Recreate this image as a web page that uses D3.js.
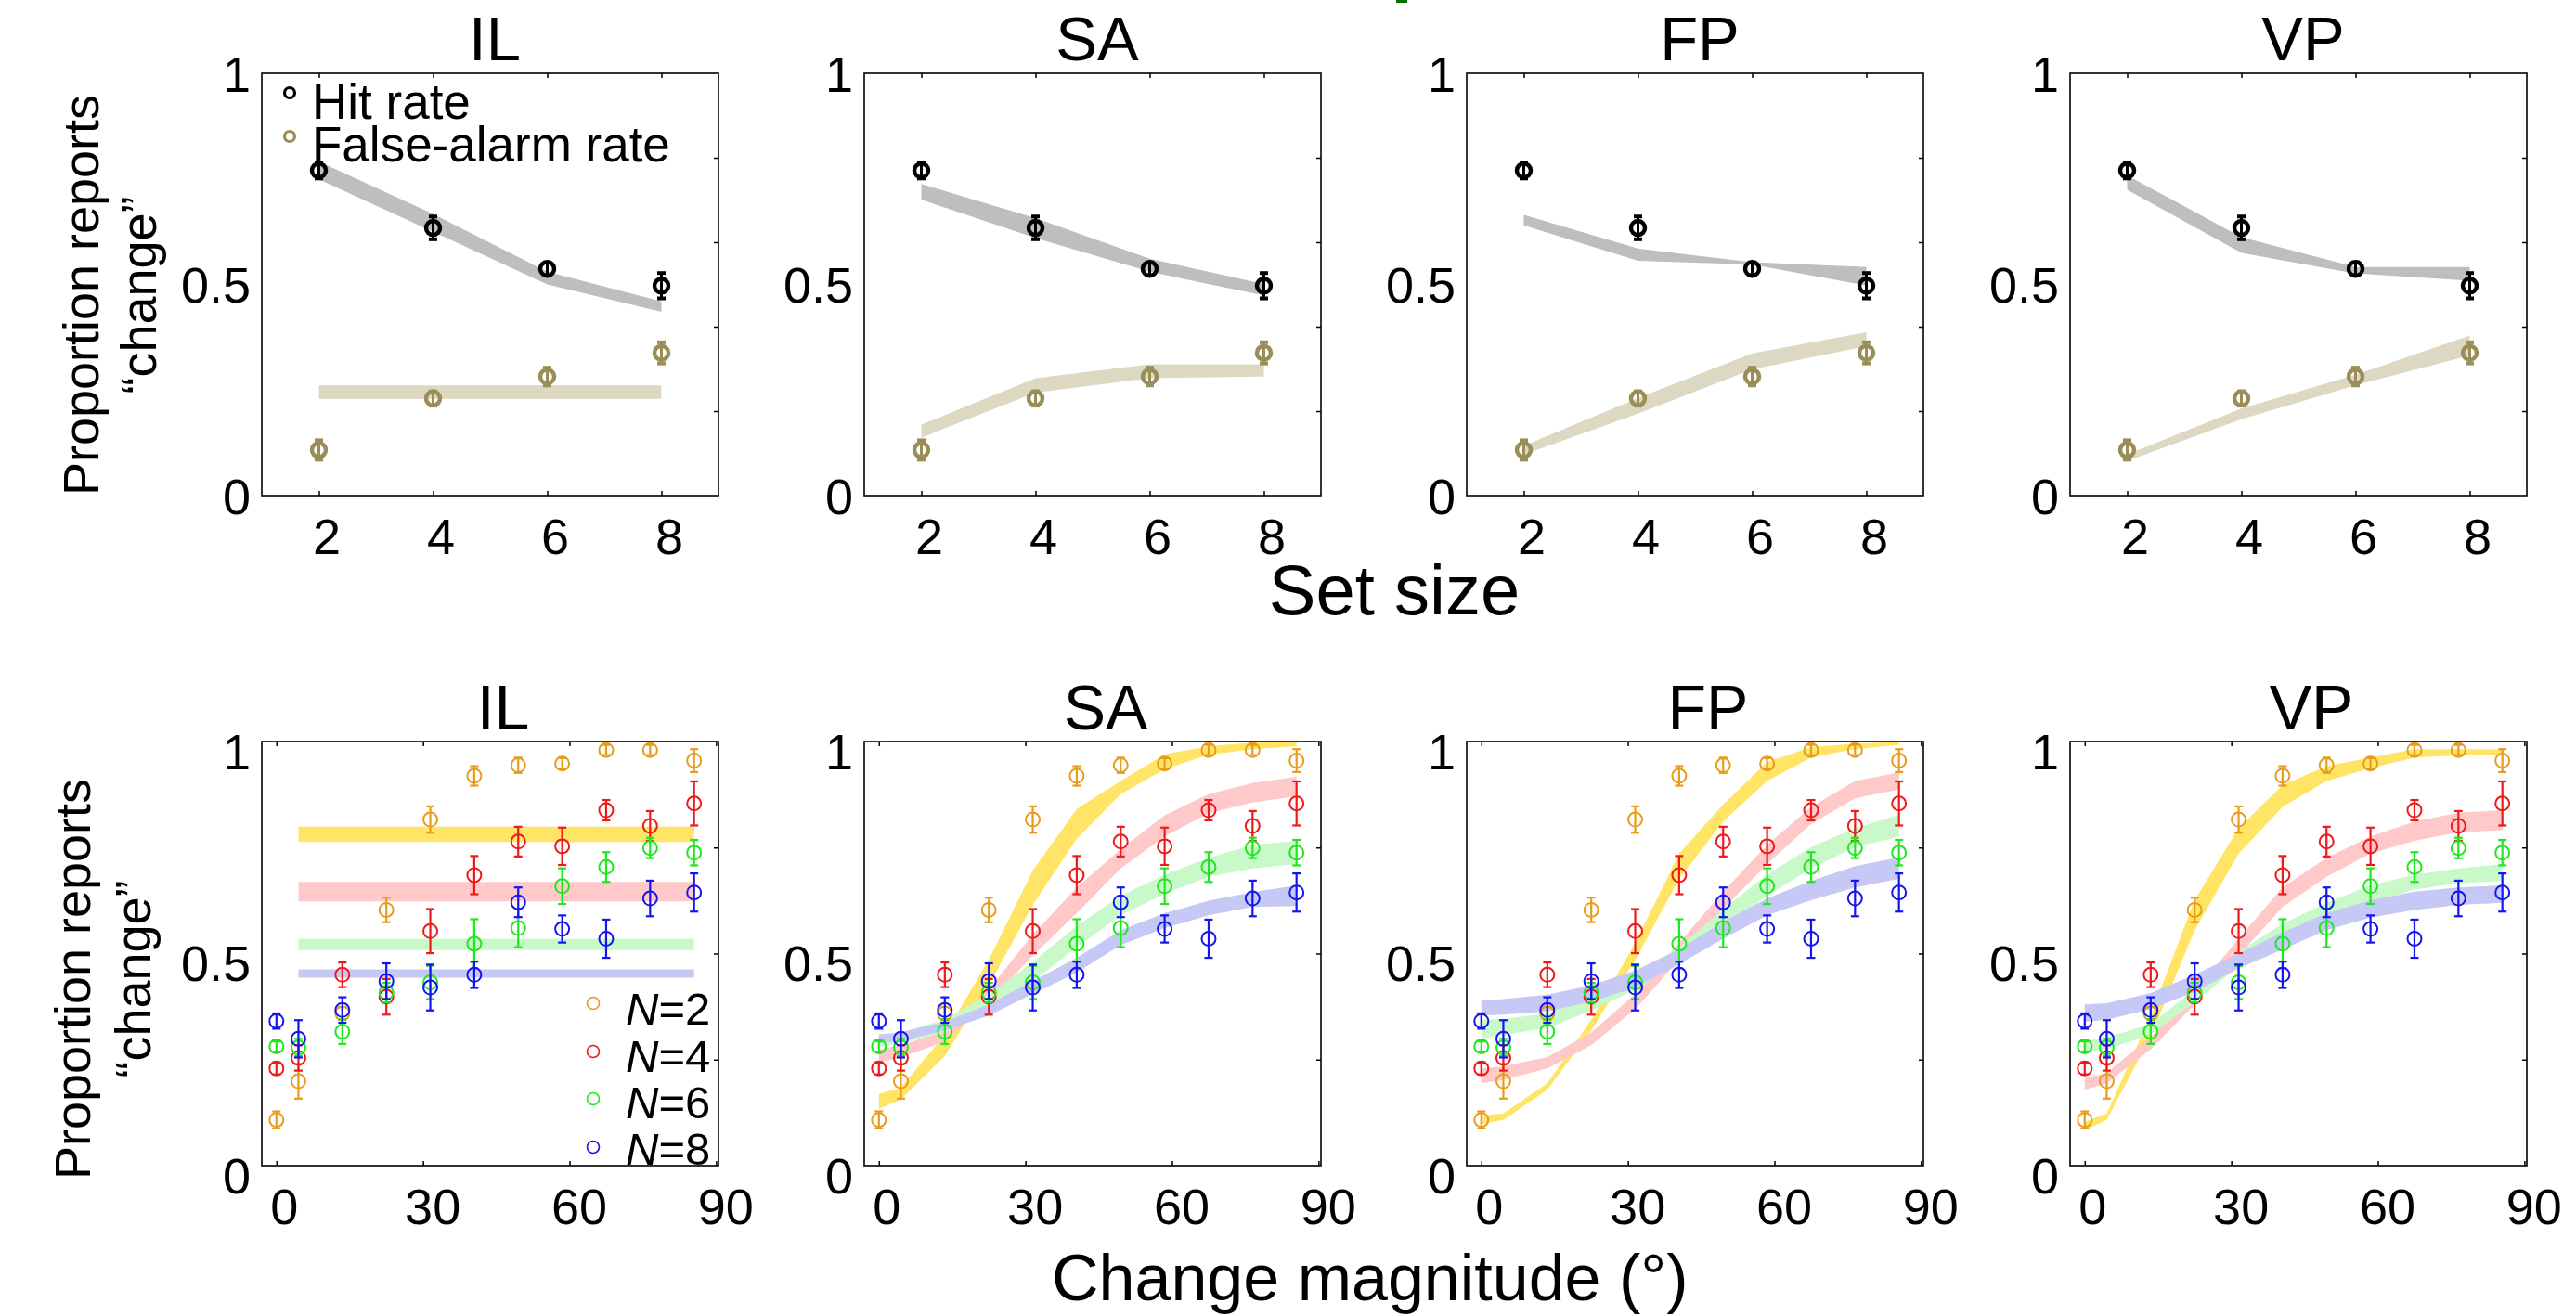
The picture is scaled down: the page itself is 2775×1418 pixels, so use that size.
<!DOCTYPE html>
<html><head><meta charset="utf-8">
<script src="https://cdn.jsdelivr.net/npm/d3@7"></script>
<style>
body{margin:0;background:#fff}
svg{display:block}
text{font-family:"Liberation Sans",Arial,Helvetica,sans-serif;fill:#000}
</style>
</head><body>
<svg id="chart" width="2775" height="1418"></svg>
<script>
// ---------- DATA ----------
const models = ["IL", "SA", "FP", "VP"];

// Top row: set size
const setSizes = [2, 4, 6, 8];
const hitRate = [0.770, 0.634, 0.537, 0.497];
const hitErr  = [0.019, 0.027, 0.015, 0.030];
const faRate  = [0.108, 0.230, 0.282, 0.338];
const faErr   = [0.023, 0.017, 0.021, 0.025];

// model fits (lower / upper band) per set size
const hitBandLo = {IL:[0.749,0.625,0.500,0.435], SA:[0.701,0.610,0.530,0.474], FP:[0.640,0.556,0.547,0.497], VP:[0.724,0.575,0.526,0.509]};
const hitBandHi = {IL:[0.791,0.667,0.530,0.460], SA:[0.738,0.657,0.561,0.501], FP:[0.665,0.585,0.553,0.541], VP:[0.758,0.612,0.541,0.541]};
const faBandLo  = {IL:[0.229,0.229,0.229,0.229], SA:[0.137,0.244,0.278,0.282], FP:[0.097,0.194,0.299,0.354], VP:[0.082,0.181,0.261,0.332]};
const faBandHi  = {IL:[0.261,0.261,0.261,0.261], SA:[0.168,0.278,0.311,0.311], FP:[0.118,0.231,0.337,0.387], VP:[0.097,0.206,0.286,0.379]};

// Bottom row: change magnitude
const changeMag = [0, 4.5, 13.5, 22.5, 31.5, 40.5, 49.5, 58.5, 67.5, 76.5, 85.5];
const setLabels = ["2", "4", "6", "8"];
const propN2 = [0.108,0.199,0.359,0.603,0.816,0.919,0.944,0.948,0.980,0.980,0.955];
const errN2  = [0.020,0.041,0.015,0.029,0.031,0.023,0.018,0.013,0.012,0.012,0.027];
const propN4 = [0.229,0.254,0.450,0.398,0.553,0.685,0.764,0.753,0.838,0.801,0.854];
const errN4  = [0.014,0.030,0.029,0.042,0.052,0.045,0.035,0.044,0.024,0.035,0.052];
const propN6 = [0.281,0.279,0.316,0.408,0.432,0.523,0.560,0.659,0.704,0.749,0.738];
const errN6  = [0.012,0.020,0.029,0.023,0.039,0.058,0.045,0.042,0.035,0.024,0.030];
const propN8 = [0.341,0.299,0.367,0.435,0.420,0.450,0.621,0.558,0.535,0.630,0.644];
const errN8  = [0.018,0.044,0.030,0.042,0.054,0.031,0.035,0.032,0.045,0.042,0.045];

// IL fits are flat (lower, upper), from 4.5 to 85.5
const ilFlatLo = [0.763, 0.623, 0.508, 0.443];
const ilFlatHi = [0.799, 0.669, 0.535, 0.463];

const SA_lo = [
  [0.134,0.156,0.259,0.425,0.615,0.771,0.876,0.935,0.969,0.982,0.989],
  [0.244,0.254,0.294,0.385,0.495,0.595,0.701,0.776,0.831,0.856,0.871],
  [0.279,0.289,0.314,0.374,0.435,0.515,0.590,0.641,0.681,0.701,0.711],
  [0.289,0.294,0.319,0.354,0.405,0.455,0.520,0.560,0.590,0.610,0.612]];
const SA_hi = [
  [0.169,0.184,0.309,0.485,0.696,0.841,0.907,0.970,0.989,0.997,1.000],
  [0.274,0.284,0.319,0.415,0.545,0.656,0.746,0.826,0.876,0.902,0.917],
  [0.309,0.314,0.344,0.405,0.480,0.565,0.636,0.686,0.726,0.756,0.766],
  [0.309,0.314,0.339,0.380,0.435,0.490,0.555,0.595,0.625,0.645,0.661]];
const FP_lo = [
  [0.098,0.108,0.179,0.319,0.485,0.676,0.811,0.907,0.962,0.982,0.992],
  [0.194,0.202,0.229,0.284,0.369,0.485,0.605,0.711,0.806,0.866,0.887],
  [0.299,0.309,0.324,0.366,0.415,0.480,0.560,0.636,0.701,0.751,0.776],
  [0.354,0.356,0.364,0.387,0.420,0.475,0.535,0.590,0.626,0.656,0.676]];
const FP_hi = [
  [0.118,0.123,0.194,0.344,0.525,0.736,0.851,0.952,0.987,0.995,0.999],
  [0.229,0.234,0.256,0.314,0.405,0.525,0.646,0.756,0.846,0.907,0.927],
  [0.344,0.346,0.359,0.400,0.445,0.515,0.605,0.686,0.751,0.796,0.827],
  [0.390,0.393,0.403,0.425,0.460,0.510,0.575,0.630,0.671,0.706,0.727]];
const VP_lo = [
  [0.083,0.108,0.304,0.555,0.736,0.846,0.907,0.937,0.962,0.967,0.967],
  [0.179,0.194,0.274,0.380,0.495,0.610,0.681,0.736,0.766,0.786,0.791],
  [0.269,0.274,0.309,0.385,0.470,0.535,0.580,0.620,0.651,0.666,0.671],
  [0.339,0.344,0.369,0.410,0.465,0.510,0.555,0.585,0.603,0.615,0.620]];
const VP_hi = [
  [0.103,0.123,0.354,0.626,0.796,0.897,0.942,0.962,0.982,0.982,0.982],
  [0.206,0.219,0.304,0.410,0.535,0.656,0.726,0.776,0.811,0.832,0.838],
  [0.294,0.302,0.334,0.415,0.505,0.570,0.620,0.661,0.686,0.701,0.711],
  [0.380,0.383,0.407,0.450,0.500,0.550,0.595,0.626,0.646,0.656,0.661]];

// tick labels
const topYTicks = [0, 0.5, 1];
const topYMinor = [0.2, 0.4, 0.6, 0.8];
const botXTicks = [0, 30, 60, 90];
const botYMinor = [0.25, 0.5, 0.75];

// ---------- STYLE / LAYOUT ----------
const font = '"Liberation Sans",Arial,Helvetica,sans-serif';
const panelLeft = [282, 931, 1580, 2230];
const panelW = 492;
const topRow = {top: 79, bottom: 534};
const botRow = {top: 799, bottom: 1256};
const dataCol = ["#E89C1C", "#F01818", "#1EE81E", "#1414F0"];
const bandCol = ["#FFE466", "#FFC9C9", "#C9F8C9", "#C6C8F6"];
const hitCol = "#000000", faCol = "#9A8E58";
const hitBand = "#BEBEBE", faBand = "#DDD8C2";

const svg = d3.select("#chart");
svg.append("rect").attr("width", 2775).attr("height", 1418).attr("fill", "#fff");
// small green artifact at top edge
svg.append("rect").attr("x", 1504).attr("y", 0).attr("width", 12).attr("height", 3).attr("fill", "#007000");

function styleAxis(g) {
  g.select(".domain").remove();
  g.selectAll(".tick line").attr("stroke", "#000").attr("stroke-width", 1.5);
}

function frame(g, xs, ys, xTickVals, yMinor, yLabelDy, x0, y0, x1, y1) {
  g.append("rect").attr("x", x0).attr("y", y1).attr("width", x1 - x0).attr("height", y0 - y1)
    .attr("fill", "none").attr("stroke", "#000").attr("stroke-width", 1.6);
  const ax = g.append("g").attr("transform", `translate(0,${y0})`)
    .call(d3.axisBottom(xs).tickValues(xTickVals).tickSizeInner(-5).tickSizeOuter(0).tickFormat(d3.format("")));
  styleAxis(ax);
  ax.selectAll(".tick text").attr("y", 63).attr("dy", 0).attr("dx", 8)
    .style("font-family", font).style("font-size", "54px").attr("fill", "#000");
  const at = g.append("g").attr("transform", `translate(0,${y1})`)
    .call(d3.axisTop(xs).tickValues(xTickVals).tickSizeInner(-5).tickSizeOuter(0).tickFormat(""));
  styleAxis(at);
  const ar = g.append("g").attr("transform", `translate(${x1},0)`)
    .call(d3.axisRight(ys).tickValues(yMinor).tickSizeInner(-5).tickSizeOuter(0).tickFormat(""));
  styleAxis(ar);
  const al = g.append("g").attr("transform", `translate(${x0},0)`)
    .call(d3.axisLeft(ys).tickValues(topYTicks).tickSize(0).tickPadding(12).tickFormat(d3.format("")));
  styleAxis(al);
  al.selectAll(".tick line").remove();
  al.selectAll(".tick text").attr("dy", "0.36em").attr("y", yLabelDy)
    .style("font-family", font).style("font-size", "54px").attr("fill", "#000");
}

function errBars(g, xs, ys, xv, vals, errs, color, sw, capW, capSw, r, cw) {
  const gg = g.append("g");
  vals.forEach((v, i) => {
    const x = xs(xv[i]);
    gg.append("line").attr("x1", x).attr("x2", x).attr("y1", ys(v - errs[i])).attr("y2", ys(v + errs[i]))
      .attr("stroke", color).attr("stroke-width", sw);
    [v - errs[i], v + errs[i]].forEach(e => {
      gg.append("line").attr("x1", x - capW).attr("x2", x + capW).attr("y1", ys(e)).attr("y2", ys(e))
        .attr("stroke", color).attr("stroke-width", capSw);
    });
    gg.append("circle").attr("cx", x).attr("cy", ys(v)).attr("r", r)
      .attr("fill", "none").attr("stroke", color).attr("stroke-width", cw);
  });
}

// ---------- TOP ROW ----------
models.forEach((m, k) => {
  const x0 = panelLeft[k], x1 = x0 + panelW;
  const xs = d3.scaleLinear().domain([1, 9]).range([x0, x1]);
  const ys = d3.scaleLinear().domain([0, 1]).range([topRow.bottom, topRow.top]);
  const g = svg.append("g");

  const area = (lo, hi) => d3.area().x((d, i) => xs(setSizes[i])).y0((d, i) => ys(lo[i])).y1((d, i) => ys(hi[i]))(setSizes);
  g.append("path").attr("d", area(hitBandLo[m], hitBandHi[m])).attr("fill", hitBand);
  g.append("path").attr("d", area(faBandLo[m], faBandHi[m])).attr("fill", faBand);

  errBars(g, xs, ys, setSizes, hitRate, hitErr, hitCol, 3, 4.5, 4, 7.5, 4.5);
  errBars(g, xs, ys, setSizes, faRate, faErr, faCol, 3, 4.5, 4, 7.5, 4.5);

  frame(g, xs, ys, setSizes, topYMinor, 0, x0, topRow.bottom, x1, topRow.top);

  g.append("text").attr("x", (x0 + x1) / 2 + 5).attr("y", 65).attr("text-anchor", "middle")
    .style("font-size", "67px").text(m);
});

// top legend
const legTop = [{label: "Hit rate", c: hitCol, y: 100, ty: 128}, {label: "False-alarm rate", c: faCol, y: 147, ty: 174}];
legTop.forEach(d => {
  svg.append("circle").attr("cx", 312).attr("cy", d.y).attr("r", 5.5).attr("fill", "none")
    .attr("stroke", d.c).attr("stroke-width", 3.2);
  svg.append("text").attr("x", 336).attr("y", d.ty).style("font-size", "53px").text(d.label);
});

// ---------- BOTTOM ROW ----------
const bandsLo = {SA: SA_lo, FP: FP_lo, VP: VP_lo};
const bandsHi = {SA: SA_hi, FP: FP_hi, VP: VP_hi};
const props = [propN2, propN4, propN6, propN8];
const errs = [errN2, errN4, errN6, errN8];

models.forEach((m, k) => {
  const x0 = panelLeft[k], x1 = x0 + panelW;
  const xs = d3.scaleLinear().domain([-3, 90.5]).range([x0, x1]);
  const ys = d3.scaleLinear().domain([0, 1]).range([botRow.bottom, botRow.top]);
  const g = svg.append("g");

  for (let s = 0; s < 4; s++) {
    let path;
    if (m === "IL") {
      const xr = changeMag.slice(1);
      path = d3.area().x(d => xs(d)).y0(() => ys(ilFlatLo[s])).y1(() => ys(ilFlatHi[s]))(xr);
    } else {
      const lo = bandsLo[m][s], hi = bandsHi[m][s];
      path = d3.area().x(d => xs(d)).y0((d, i) => ys(lo[i])).y1((d, i) => ys(hi[i]))(changeMag);
    }
    g.append("path").attr("d", path).attr("fill", bandCol[s]);
  }
  for (let s = 0; s < 4; s++) {
    errBars(g, xs, ys, changeMag, props[s], errs[s], dataCol[s], 2.2, 4.5, 2.2, 7.5, 2);
  }

  frame(g, xs, ys, botXTicks, botYMinor, 10, x0, botRow.bottom, x1, botRow.top);
  g.selectAll(".tick text").filter(function(){ return this.textContent === "90" || this.textContent === "60" || this.textContent === "30"; }).attr("dx", 10);

  g.append("text").attr("x", (x0 + x1) / 2 + 14).attr("y", 786).attr("text-anchor", "middle")
    .style("font-size", "68px").text(m);
});

// bottom legend
const legY = [1081, 1133, 1184, 1236];
const legTY = [1105, 1156, 1206, 1256];
setLabels.forEach((lab, i) => {
  svg.append("circle").attr("cx", 639).attr("cy", legY[i]).attr("r", 6.5).attr("fill", "none")
    .attr("stroke", dataCol[i]).attr("stroke-width", 1.6);
  const t = svg.append("text").attr("x", 674).attr("y", legTY[i] - 1).style("font-size", "49px");
  t.append("tspan").style("font-style", "italic").text("N");
  t.append("tspan").text("=" + lab);
});

// y-axis labels
function yLabel(cy, bx1, bx2) {
  svg.append("text").attr("transform", `translate(${bx1},${cy}) rotate(-90)`).attr("text-anchor", "middle")
    .style("font-size", "54px").text("Proportion reports");
  svg.append("text").attr("transform", `translate(${bx2},${cy}) rotate(-90)`).attr("text-anchor", "middle")
    .style("font-size", "54px").text("\u201Cchange\u201D");
}
yLabel(318, 106, 168);
yLabel(1055, 97, 162);

// x-axis titles
svg.append("text").attr("x", 1502).attr("y", 662).attr("text-anchor", "middle").style("font-size", "76px").text("Set size");
svg.append("text").attr("x", 1133).attr("y", 1401).attr("text-anchor", "start").style("font-size", "70px").text("Change magnitude (\u00B0)");
</script>
</body></html>
